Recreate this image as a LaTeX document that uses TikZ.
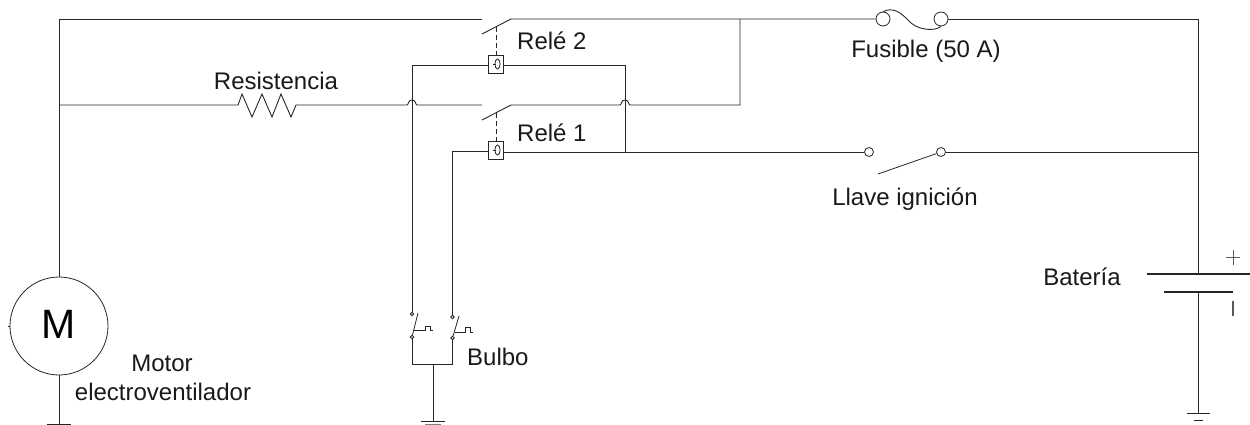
\documentclass[tikz,border=0pt]{standalone}
\usepackage{fontspec}
\setmainfont{Liberation Sans}
\begin{document}
\begin{tikzpicture}[x=1pt,y=-1pt,
  wire/.style={draw=black!85,line width=0.9pt},
  thin wire/.style={draw=black!85,line width=0.8pt},
  lab/.style={font=\fontsize{24}{28}\selectfont,text=black!90,inner sep=0pt},
  term/.style={circle,draw=black!85,line width=0.8pt,fill=white,minimum size=#1,inner sep=0pt},
  coil/.style={rectangle,draw=black!85,line width=0.8pt,fill=white,minimum width=14.5pt,minimum height=18pt,inner sep=0pt},
  motor/.style={circle,draw=black!85,line width=0.8pt,minimum size=98pt,inner sep=0pt}]
\useasboundingbox (0,0) rectangle (1250,425);
% nodes
\node[motor] (M) at (59,326) {};
\node[font=\fontsize{41}{46}\selectfont,inner sep=0pt,anchor=base] (Mt) at (59,338) {M};
\node[coil] (c2) at (496,64) {};
\node[coil] (c1) at (496,150) {};
\node[term=14pt] (f1) at (883,19) {};
\node[term=14pt] (f2) at (941,19) {};
\node[term=9pt] (k1) at (869,152) {};
\node[term=9pt] (k2) at (941,152) {};
\node[term=3.5pt] (b1u) at (412,314) {};
\node[term=3.5pt] (b1d) at (412,337) {};
\node[term=3.5pt] (b2u) at (452.5,317) {};
\node[term=3.5pt] (b2d) at (452.5,338) {};
% coordinates
\coordinate (tl) at (59,19);
\coordinate (rl) at (59,105);
\coordinate (s2a) at (482,19);
\coordinate (s2b) at (511,19);
\coordinate (s2c) at (482,34);
\coordinate (s1a) at (482,105);
\coordinate (s1b) at (511,105);
\coordinate (s1c) at (482,120);
\coordinate (tr) at (1198,19);
\coordinate (kr) at (1198,152);
\coordinate (bp) at (1198,274);
\coordinate (bn) at (1198,292);
\coordinate (g3) at (1198,413);
\coordinate (g1) at (59,424);
\coordinate (j) at (625,152);
\coordinate (c2l) at (412,65);
\coordinate (c2r) at (625,65);
\coordinate (c1l) at (452.5,151);
\coordinate (r740a) at (740,105);
\coordinate (r740b) at (740,19);
\coordinate (bl) at (412,364);
\coordinate (br) at (452.5,364);
\coordinate (bm) at (433,364);
\coordinate (g2) at (433,421);
% top wire
\draw[wire] (tl) -- (s2a);
\draw[wire] (s2c) -- (s2b) -- (f1);
\draw[wire] (f2) -- (tr) -- (bp);
\draw[wire] (f1.north) .. controls (893,7) and (900,12) .. (908,20) .. controls (916,30) and (934,32) .. (f2.south);
% motor
\draw[wire] (tl) -- (M.north);
\draw[wire] (M.south) -- (g1);
\draw[wire] (47,424) -- (71,424);
\draw[thin wire] (M.west) -- ++(-2,0);
% resistor branch
\draw[wire] (rl) -- (238,105) -- (242,94) -- (252,117) -- (262,94) -- (272,117) -- (281,94) -- (291,117) -- (296,105) -- (407,105)
  .. controls (408.5,105) and (408,100) .. (412,100) .. controls (416,100) and (415.5,105) .. (417,105) -- (s1a);
\draw[wire] (s1c) -- (s1b) -- (620,105)
  .. controls (621.5,105) and (621,100) .. (625,100) .. controls (629,100) and (628.5,105) .. (630,105) -- (r740a) -- (r740b);
% relays
\draw[thin wire,dash pattern=on 5pt off 3pt] (496,27) -- (c2.north);
\draw[thin wire,dash pattern=on 5pt off 3pt] (496,113) -- (c1.north);
\foreach \c in {c1,c2}{
  \draw[thin wire] ([xshift=-3pt]\c.center) -- ++(2.5,0);
  \draw[thin wire] ([xshift=1.5pt]\c.center) ellipse (2.6pt and 5pt);
}
\draw[wire] (b1u) -- (c2l) -- (c2.west |- c2l);
\draw[wire] (c2.east |- c2r) -- (c2r) -- (j);
\draw[wire] (b2u) -- (c1l) -- (c1.west |- c1l);
\draw[wire] (c1.east |- j) -- (k1);
% ignition
\draw[wire] (k2) -- (kr);
\draw[thin wire] (878,174) -- (k2);
% bulb switches
\draw[thin wire] (418,313) -- (b1d);
\draw[thin wire] (459,316) -- (b2d);
\draw[thin wire] (414,330) -- (425,330) -- (425,326) -- (430,326) -- (430,330) -- (433,330);
\draw[thin wire] (455,332) -- (465,332) -- (465,327) -- (470,327) -- (470,332) -- (473,332);
\draw[wire] (b1d) -- (bl) -- (br) -- (b2d);
\draw[wire] (bm) -- (g2);
\draw[wire] (421,421) -- (445,421);
\draw[thin wire,draw=black!50] (425,424.4) -- (441,424.4);
% battery
\draw[wire,line width=1.1pt] (1147,274) -- (1250,274);
\draw[wire,line width=1.1pt] (1164,292) -- (1233,292);
\draw[wire] (bn) -- (g3);
\draw[wire] (1187,413) -- (1210,413);
\draw[wire] (1194,420) -- (1203,420);
\draw[thin wire,draw=black!65] (1226,257) -- (1240,257) (1233,250) -- (1233,265);
\draw[thin wire,draw=black!65,line width=1.1pt] (1233,301) -- (1233,316);
% labels
\node[lab,anchor=base west] (lr2) at (517,50) {Relé 2};
\node[lab,anchor=base west] (lr1) at (517,142) {Relé 1};
\node[lab,anchor=base] (lres) at (276,90) {Resistencia};
\node[lab,anchor=base] (lfus) at (926,58) {Fusible (50 A)};
\node[lab,anchor=base] (lign) at (905,205) {Llave ignición};
\node[lab,anchor=base] (lbat) at (1082,285) {Batería};
\node[lab,anchor=base] (lmot) at (162,371) {Motor};
\node[lab,anchor=base] (lel) at (163,400) {electroventilador};
\node[lab,anchor=base west] (lbul) at (467,365) {Bulbo};
\end{tikzpicture}
\end{document}
